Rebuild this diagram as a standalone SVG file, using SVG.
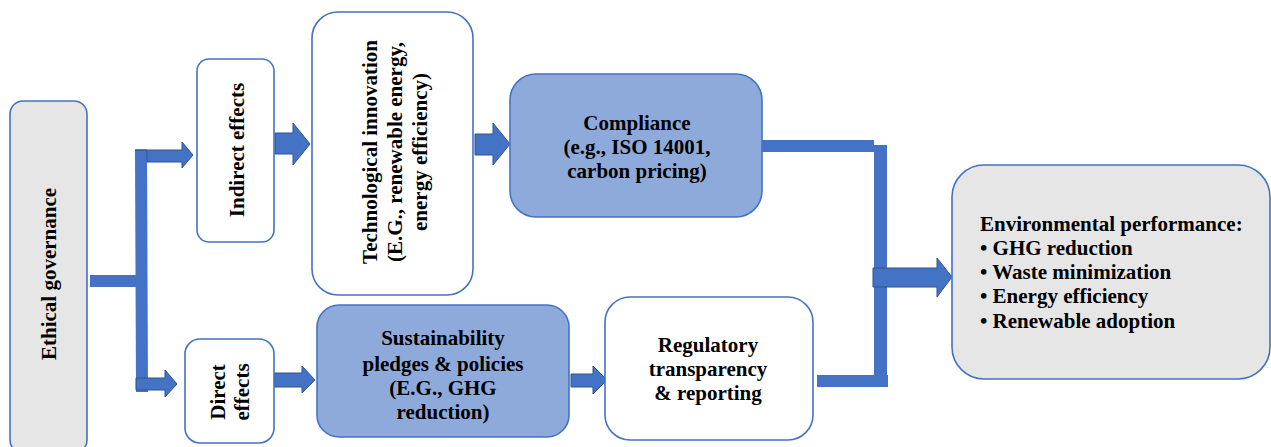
<svg xmlns="http://www.w3.org/2000/svg" width="1271" height="447" viewBox="0 0 1271 447">
<style>
.box{stroke:#4472c4;stroke-width:1.6}
.w{fill:#ffffff}
.g{fill:#e6e6e6}
.b{fill:#8eaadb}
.t{font-family:"Liberation Serif","Times New Roman",serif;font-weight:bold;font-size:21px;fill:#000}
.m{text-anchor:middle}
.bar{fill:#4472c4}
.arr{fill:#4472c4;stroke:#2f528f;stroke-width:1}
</style>
<rect width="1271" height="447" fill="#ffffff"/>
<g id="connectors">
<rect class="bar" x="90" y="275" width="47" height="12"/>
<polygon class="bar" points="135,150 147,150 148,392 136,392"/>
<polygon class="arr" points="135,150 182,150 182,142 193,155 182,168 182,162 147,162 147,150"/>
<polygon class="arr" points="136,378 165,378 165,370 177,384 165,397 165,390 136,390"/>
<polygon class="arr" points="275,133 293,133 293,123 310,144 293,165 293,154 275,154"/>
<polygon class="arr" points="475,134 493,134 493,123 510,144 493,165 493,155 475,155"/>
<polygon class="arr" points="274,373 302,373 302,366 315,380 302,393 302,387 274,387"/>
<polygon class="arr" points="571,374 593,374 593,366 607,380 593,394 593,387 571,387"/>
<rect class="bar" x="762" y="140" width="112" height="12"/>
<rect class="bar" x="874" y="145" width="13" height="242"/>
<rect class="bar" x="817" y="375" width="71" height="12"/>
<polygon class="arr" points="873,268 937,268 937,258 952,277 937,297 937,287 873,287"/>
</g>
<g id="ethical">
<rect class="box g" x="10" y="101" width="77" height="352" rx="13"/>
<text class="t m" transform="translate(56,274) rotate(-90)">Ethical governance</text>
</g>
<g id="indirect">
<rect class="box w" x="197" y="59" width="77" height="183" rx="12"/>
<text class="t m" transform="translate(244,150) rotate(-90)">Indirect effects</text>
</g>
<g id="tech">
<rect class="box w" x="312" y="12" width="161" height="283" rx="26"/>
<text class="t m" transform="translate(377,152) rotate(-90)">Technological innovation</text>
<text class="t m" transform="translate(402,152) rotate(-90)">(E.G., renewable energy,</text>
<text class="t m" transform="translate(427,152) rotate(-90)">energy efficiency)</text>
</g>
<g id="compliance">
<rect class="box b" x="510" y="74" width="252" height="143" rx="26"/>
<text class="t m" x="637" y="130">Compliance</text>
<text class="t m" x="637" y="154">(e.g., ISO 14001,</text>
<text class="t m" x="637" y="178">carbon pricing)</text>
</g>
<g id="direct">
<rect class="box w" x="185" y="339" width="89" height="104" rx="15"/>
<text class="t m" transform="translate(225,392) rotate(-90)">Direct</text>
<text class="t m" transform="translate(249,392) rotate(-90)">effects</text>
</g>
<g id="sustainability">
<rect class="box b" x="317" y="305" width="252" height="132" rx="22"/>
<text class="t m" x="443" y="345">Sustainability</text>
<text class="t m" x="443" y="371">pledges &amp; policies</text>
<text class="t m" x="443" y="395">(E.G., GHG</text>
<text class="t m" x="443" y="419">reduction)</text>
</g>
<g id="regulatory">
<rect class="box w" x="605" y="297" width="208" height="143" rx="25"/>
<text class="t m" x="708" y="352">Regulatory</text>
<text class="t m" x="708" y="376">transparency</text>
<text class="t m" x="708" y="400">&amp; reporting</text>
</g>
<g id="environmental">
<rect class="box g" x="952" y="165" width="318" height="214" rx="32"/>
<text class="t" x="980" y="231">Environmental performance:</text>
<text class="t" x="980" y="255">• GHG reduction</text>
<text class="t" x="980" y="279">• Waste minimization</text>
<text class="t" x="980" y="303">• Energy efficiency</text>
<text class="t" x="980" y="328">• Renewable adoption</text>
</g>
</svg>
